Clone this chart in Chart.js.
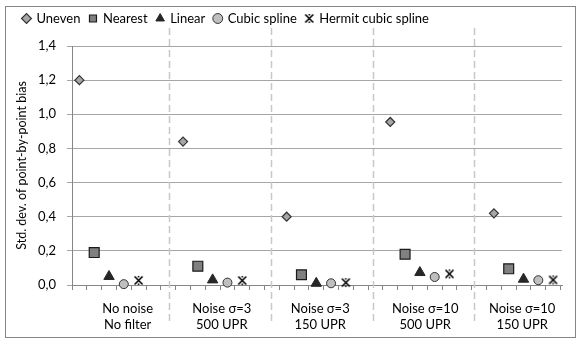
<!DOCTYPE html>
<html>
<head>
<meta charset="utf-8">
<script src="https://cdn.jsdelivr.net/npm/chart.js@4/dist/chart.umd.min.js"></script>
<style>
  body { margin: 0; background: #fff; }
  #wrap { position: relative; width: 576px; height: 340px; }
  #frame { position: absolute; left: 5px; top: 6px; width: 569px; height: 330px; border: 1px solid #868686; pointer-events: none; }
</style>
</head>
<body>
<div id="wrap">
  <canvas id="chart" width="576" height="340"></canvas>
  <div id="frame"></div>
</div>
<script>
// values
const groupLabels = [
  ['No noise', 'No filter'],
  ['Noise σ=3', '500 UPR'],
  ['Noise σ=3', '150 UPR'],
  ['Noise σ=10', '500 UPR'],
  ['Noise σ=10', '150 UPR']
];
const groupStart = [0, 7, 14, 21, 28];
const labelPos = [3.76, 10.12, 16.77, 23.86, 30.41];
const separators = [6.55, 13.42, 20.3, 27.17];

const uneven  = [1.20, 0.84, 0.40, 0.955, 0.42];
const nearest = [0.19, 0.11, 0.06, 0.18, 0.095];
const linear  = [0.05, 0.03, 0.01, 0.073, 0.034];
const cubic   = [0.005, 0.014, 0.01, 0.047, 0.028];
const hermit  = [0.027, 0.026, 0.014, 0.065, 0.03];

const yTicks = [0, 0.2, 0.4, 0.6, 0.8, 1.0, 1.2, 1.4];

const FONT = 'Lato, "Open Sans", sans-serif';

function pts(values, offset) {
  return values.map((v, i) => ({ x: groupStart[i] + offset, y: v }));
}

// Excel-like "star" marker : X with a vertical bar
function starMarker() {
  const c = document.createElement('canvas');
  c.width = 11; c.height = 11;
  const g = c.getContext('2d');
  g.strokeStyle = '#000';
  g.lineWidth = 1.6;
  g.beginPath();
  g.moveTo(1.5, 1.5); g.lineTo(9.5, 9.5);
  g.moveTo(9.5, 1.5); g.lineTo(1.5, 9.5);
  g.moveTo(5.5, 1); g.lineTo(5.5, 2.5);
  g.moveTo(5.5, 8.5); g.lineTo(5.5, 10);
  g.stroke();
  return c;
}

const separatorPlugin = {
  id: 'separators',
  beforeDatasetsDraw(chart) {
    const { ctx, chartArea, scales } = chart;
    ctx.save();
    ctx.strokeStyle = '#c8c8c8';
    ctx.lineWidth = 1.5;
    ctx.setLineDash([7, 4]);
    separators.forEach(s => {
      const x = Math.round(scales.x.getPixelForValue(s)) + 0.5;
      ctx.beginPath();
      ctx.moveTo(x, chartArea.top - 18);
      ctx.lineTo(x, chartArea.bottom + 37);
      ctx.stroke();
    });
    ctx.restore();
  }
};

const legendGap = {
  id: 'legendGap',
  beforeInit(chart) {
    const fit = chart.legend.fit;
    chart.legend.fit = function () { fit.call(this); this.height += 11; };
  }
};

new Chart(document.getElementById('chart').getContext('2d'), {
  type: 'scatter',
  data: {
    datasets: [
      { label: 'Uneven', data: pts(uneven, 0.5), pointStyle: 'rectRot', pointRadius: 4.5,
        backgroundColor: '#a6a6a6', borderColor: '#333', borderWidth: 1.2, clip: false },
      { label: 'Nearest', data: pts(nearest, 1.5), pointStyle: 'rect', pointRadius: 7,
        backgroundColor: '#808080', borderColor: '#1a1a1a', borderWidth: 1.2, clip: false },
      { label: 'Linear', data: pts(linear, 2.5), pointStyle: 'triangle', pointRadius: 6,
        backgroundColor: '#262626', borderColor: '#262626', borderWidth: 1, clip: false },
      { label: 'Cubic spline', data: pts(cubic, 3.5), pointStyle: 'circle', pointRadius: 4.5,
        backgroundColor: '#bfbfbf', borderColor: '#333', borderWidth: 1, clip: false },
      { label: 'Hermit cubic spline', data: pts(hermit, 4.5), pointStyle: starMarker(),
        backgroundColor: '#000', borderColor: '#000', clip: false }
    ]
  },
  options: {
    responsive: false,
    animation: false,
    events: [],
    layout: { padding: { left: 14, right: 14, top: 3, bottom: 0 } },
    plugins: {
      tooltip: { enabled: false },
      legend: {
        position: 'top',
        align: 'start',
        labels: {
          usePointStyle: true,
          boxWidth: 7,
          boxHeight: 7,
          padding: 9,
          color: '#000',
          font: { family: FONT, size: 13 }
        }
      }
    },
    scales: {
      x: {
        type: 'linear',
        min: 0,
        max: 33.1,
        position: 'bottom',
        grid: { drawOnChartArea: false, tickLength: 5, color: '#868686' },
        border: { color: '#868686' },
        ticks: { display: false, stepSize: 1, includeBounds: false },
        afterFit: s => { s.height = 5; }
      },
      x2: {
        type: 'linear',
        min: 0,
        max: 33.1,
        position: 'bottom',
        grid: { display: false },
        border: { display: false },
        afterBuildTicks: s => { s.ticks = labelPos.map(v => ({ value: v })); },
        ticks: {
          autoSkip: false,
          maxRotation: 0,
          padding: 3,
          color: '#000',
          font: { family: FONT, size: 13 },
          callback: (v, i) => groupLabels[i]
        },
        afterFit: s => { s.height = 50; }
      },
      y: {
        min: 0,
        max: 1.4,
        afterBuildTicks: s => { s.ticks = yTicks.map(v => ({ value: v })); },
        grid: { color: '#a6a6a6', tickLength: 5 },
        border: { color: '#868686' },
        ticks: {
          padding: 11,
          color: '#000',
          font: { family: FONT, size: 13 },
          callback: v => v.toFixed(1).replace('.', ',')
        },
        title: {
          display: true,
          text: 'Std. dev. of point-by-point bias',
          color: '#000',
          font: { family: FONT, size: 12.5 },
          padding: { top: 0, bottom: 0 }
        },
        afterFit: s => { s.width = 58; }
      }
    }
  },
  plugins: [separatorPlugin, legendGap]
});
</script>
</body>
</html>
